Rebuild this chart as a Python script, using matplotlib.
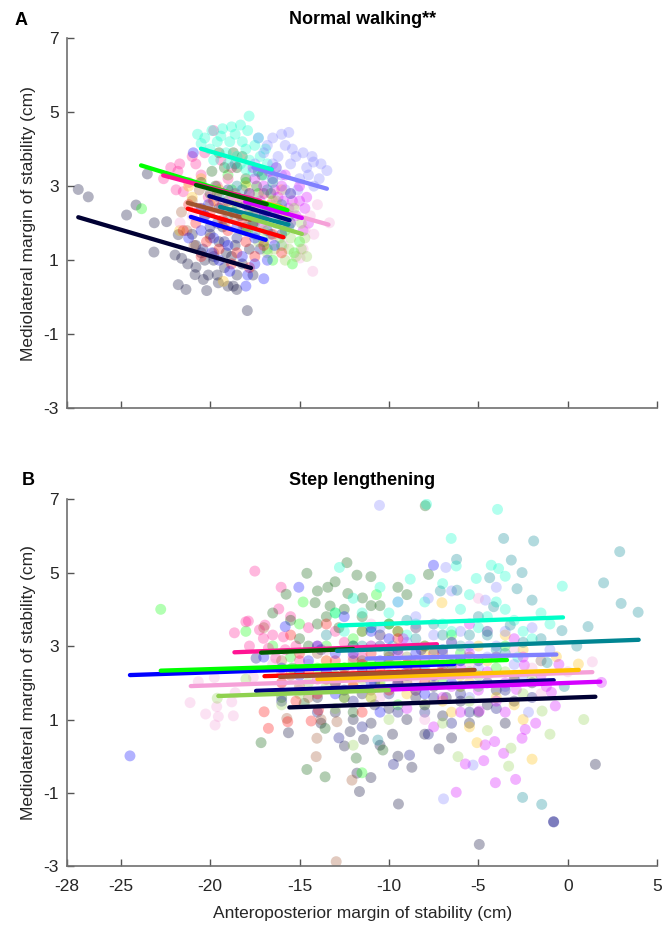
import matplotlib
matplotlib.use('Agg')
import matplotlib.pyplot as plt

plt.rcParams['font.family'] = ['Liberation Sans', 'DejaVu Sans']
plt.rcParams['axes.unicode_minus'] = False

# participant colours (same order everywhere)
colors = ['#000033', '#00ff00', '#ff1493', '#ffc000', '#005a00',
          '#00ffc8', '#8080ff', '#000080', '#d400ff', '#f5a0d8',
          '#008592', '#a0522d', '#8fd14f', '#ff0000', '#0000ff']

xticks = [-28, -25, -20, -15, -10, -5, 0, 5]
yticks = [-3, -1, 1, 3, 5, 7]

# ---- normal walking: points per participant (AP MoS, ML MoS) ----
nw_01 = [(-27.37, 2.91), (-26.81, 2.71), (-24.14, 2.49), (-24.67, 2.22), (-23.51, 3.33),
         (-23.12, 2.01), (-22.43, 2.04), (-21.78, 1.69), (-23.14, 1.22), (-21.96, 1.14),
         (-21.59, 1.05), (-21.25, 0.90), (-20.79, 0.81), (-20.84, 0.61), (-20.38, 0.48),
         (-21.78, 0.34), (-21.35, 0.21), (-20.19, 0.18), (-19.54, 0.39), (-18.7, 0.30),
         (-18.51, 0.21), (-17.92, -0.36), (-20.5, 1.2), (-19.8, 1.0), (-19.2, 0.8),
         (-18.8, 1.1), (-19.5, 1.5), (-20.0, 1.7), (-18.5, 0.6), (-19.0, 0.3),
         (-20.8, 1.4), (-18.2, 0.9), (-19.3, 1.9), (-17.8, 1.3), (-20.1, 0.6),
         (-19.6, 0.6), (-18.6, 1.4), (-20.3, 1.0), (-19.1, 1.2), (-17.6, 0.6), (-21.0, 1.7)]
nw_02 = [(-23.83, 2.39), (-17.0, 1.5), (-16.0, 1.4), (-15.3, 1.2), (-15.0, 1.5), (-16.5, 1.0),
         (-15.8, 1.8), (-17.5, 2.0), (-16.2, 2.4), (-18.0, 3.1), (-19.0, 3.3), (-17.3, 2.8),
         (-15.6, 2.2), (-18.5, 2.5), (-16.8, 1.3), (-15.4, 0.9), (-17.9, 1.8), (-18.8, 2.9)]
nw_03 = [(-22.6, 3.2), (-21.7, 3.6), (-21.8, 3.4), (-20.8, 3.6), (-19.8, 4.5), (-21.2, 3.1),
         (-20.5, 3.3), (-19.6, 3.0), (-21.5, 2.85), (-20.1, 2.7), (-19.0, 3.2), (-18.6, 2.8),
         (-20.6, 2.4), (-21.9, 2.9), (-19.3, 2.5), (-22.2, 3.5), (-21.0, 3.8), (-20.3, 3.9),
         (-19.4, 3.7), (-18.8, 3.5)]
nw_04 = [(-21.7, 1.8), (-21.2, 3.0), (-20.5, 3.2), (-19.5, 2.9), (-18.5, 2.7), (-17.5, 2.5),
         (-16.5, 2.6), (-15.8, 2.3), (-20.0, 2.5), (-18.0, 3.0), (-19.26, 0.43), (-16.0, 2.9),
         (-19.0, 2.4), (-17.0, 2.8), (-21.0, 2.7)]
nw_05 = [(-20.5, 3.1), (-19.9, 3.4), (-19.2, 3.5), (-18.5, 3.5), (-18.0, 3.2), (-17.4, 3.0),
         (-16.6, 2.8), (-20.0, 2.8), (-19.0, 2.6), (-17.8, 2.4), (-16.8, 2.4), (-18.7, 3.9),
         (-19.5, 3.9), (-19.7, 3.0), (-18.2, 3.8), (-17.1, 3.3), (-17.8, 2.8)]
nw_06 = [(-20.3, 4.3), (-19.9, 4.5), (-19.3, 4.55), (-18.8, 4.6), (-18.3, 4.65), (-17.9, 4.5),
         (-17.82, 4.89), (-19.6, 4.2), (-18.9, 4.2), (-18.2, 4.2), (-17.5, 4.1), (-19.1, 3.9),
         (-18.5, 3.8), (-17.8, 3.7), (-17.2, 3.8), (-16.8, 3.6), (-19.8, 3.7), (-18.0, 3.45),
         (-20.5, 4.15), (-17.0, 3.3), (-16.5, 3.2), (-20.0, 4.0), (-19.4, 4.35), (-18.6, 4.4),
         (-18.0, 4.0), (-17.3, 4.3), (-16.9, 4.0), (-19.0, 3.6), (-18.3, 3.6), (-17.6, 3.4),
         (-20.7, 4.4), (-16.3, 3.5)]
nw_07 = [(-16.5, 4.3), (-16.0, 4.4), (-15.4, 4.0), (-14.8, 3.9), (-14.3, 3.8), (-13.8, 3.6),
         (-13.47, 3.42), (-15.5, 3.6), (-16.2, 3.8), (-17.0, 3.9), (-16.0, 3.3), (-15.0, 3.2),
         (-14.6, 3.5), (-17.5, 3.6), (-14.2, 3.0), (-15.8, 2.9), (-14.22, 3.65), (-16.8, 4.1),
         (-15.8, 4.1), (-15.2, 3.8), (-14.5, 3.3), (-15.1, 2.9), (-16.5, 3.6), (-13.9, 3.2),
         (-17.3, 4.3), (-15.6, 4.45)]
nw_08 = [(-20.5, 2.4), (-19.5, 2.4), (-19.0, 2.9), (-18.3, 2.2), (-17.6, 2.0), (-16.8, 1.8),
         (-16.0, 1.7), (-20.0, 1.9), (-19.2, 1.5), (-18.5, 1.6), (-17.2, 1.3), (-20.4, 1.3),
         (-19.6, 2.0), (-18.0, 2.5), (-16.4, 2.3), (-19.8, 1.1), (-18.7, 2.3), (-17.0, 2.2),
         (-15.5, 2.0)]
nw_09 = [(-17.5, 3.2), (-17.0, 3.0), (-16.5, 3.2), (-16.0, 3.0), (-15.5, 2.8), (-15.0, 2.6),
         (-17.2, 2.6), (-16.6, 2.5), (-16.2, 2.7), (-15.6, 2.4), (-15.2, 2.2), (-14.7, 2.4),
         (-17.8, 2.8), (-16.8, 2.2), (-14.5, 2.0), (-15.8, 3.3), (-16.4, 2.9), (-17.4, 2.3),
         (-14.8, 1.8), (-16.0, 2.0), (-17.0, 2.8), (-16.2, 2.3), (-15.4, 2.6), (-15.9, 2.6),
         (-16.7, 3.4), (-17.6, 3.5), (-15.0, 3.0), (-14.6, 2.7), (-17.1, 2.0), (-16.3, 3.5)]
nw_10 = [(-13.33, 2.01), (-14.26, 0.70), (-14.69, 1.83), (-14.97, 1.06), (-14.4, 2.2),
         (-15.3, 2.5), (-16.0, 2.3), (-17.0, 2.0), (-18.2, 2.4), (-19.0, 2.6), (-20.0, 2.9),
         (-21.68, 2.01), (-21.0, 2.2), (-16.5, 1.6), (-14.8, 1.3), (-15.6, 2.0), (-14.2, 1.7),
         (-15.9, 1.4), (-17.5, 2.7), (-14.0, 2.5)]
nw_11 = [(-18.5, 3.0), (-17.8, 2.6), (-17.0, 2.3), (-16.3, 2.0), (-15.6, 1.9), (-19.0, 2.2),
         (-18.0, 1.9), (-16.8, 2.9), (-19.5, 2.7), (-16.0, 2.5), (-17.3, 3.4), (-18.6, 3.6),
         (-15.5, 2.8), (-17.5, 1.7), (-18.2, 2.9), (-17.6, 2.2), (-16.6, 1.7), (-16.5, 3.1)]
nw_12 = [(-21.0, 2.6), (-20.3, 2.2), (-19.6, 2.8), (-21.3, 1.8), (-20.0, 1.6), (-19.2, 2.0),
         (-18.6, 2.2), (-18.0, 1.8), (-21.6, 2.3), (-19.8, 1.2), (-17.6, 2.0), (-20.6, 2.9),
         (-19.4, 2.4), (-18.3, 2.6), (-20.9, 1.4)]
nw_13 = [(-15.2, 1.1), (-14.9, 1.3), (-15.8, 1.0), (-16.4, 1.3), (-14.7, 1.6), (-15.5, 1.6),
         (-17.0, 1.8), (-16.0, 2.0), (-17.6, 2.3), (-14.9, 2.0), (-16.8, 1.2), (-18.2, 1.8),
         (-15.3, 2.4), (-16.3, 2.6), (-15.6, 1.3), (-14.6, 1.1), (-16.1, 1.6), (-17.3, 1.5)]
nw_14 = [(-20.8, 2.0), (-20.2, 1.5), (-19.5, 1.3), (-19.0, 1.8), (-18.5, 1.2), (-18.0, 1.5),
         (-17.5, 1.1), (-21.2, 2.5), (-20.0, 2.3), (-17.0, 1.4), (-19.3, 2.1), (-21.5, 1.8),
         (-16.5, 1.7), (-18.8, 0.9), (-20.5, 1.1), (-19.8, 2.6), (-18.2, 2.0), (-17.8, 0.8),
         (-16.0, 1.2)]
nw_15 = [(-20.94, 3.9), (-20.5, 1.8), (-19.8, 1.6), (-19.0, 1.4), (-18.5, 1.9), (-18.2, 1.1),
         (-17.5, 0.9), (-17.9, 0.6), (-19.5, 1.0), (-20.3, 2.2), (-16.8, 1.0), (-21.2, 1.6),
         (-18.0, 0.3), (-17.5, 1.6), (-19.9, 1.2), (-18.9, 0.7), (-17.0, 0.5), (-20.1, 2.5),
         (-16.4, 1.4)]

# ---- step lengthening: points per participant ----
sl_01 = [(-15.62, 0.64), (-12.49, 0.28), (-11.65, -0.96), (-11.01, -0.58), (-11.42, 0.46),
         (-11.79, -0.46), (-12.17, 0.67), (-9.47, -1.30), (-4.95, -2.40), (1.54, -0.22),
         (-13.0, 1.2), (-12.0, 1.0), (-11.0, 0.9), (-10.0, 1.3), (-9.0, 1.0), (-8.0, 0.6),
         (-7.0, 1.1), (-6.0, 1.5), (-5.0, 1.2), (-4.0, 1.8), (-3.0, 1.5), (-2.0, 2.0),
         (-10.5, 0.3), (-9.5, 0.0), (-8.5, 1.6), (-7.5, 1.9), (-14.0, 1.6), (-6.5, 0.5),
         (-11.5, 1.7), (-8.72, -0.30), (-12.5, 1.8), (-10.8, 1.4), (-9.8, 0.6), (-8.0, 1.4),
         (-6.8, 1.6), (-5.5, 0.9), (-4.5, 1.4), (-3.5, 0.9), (-13.8, 0.9), (-7.2, 0.2)]
sl_02 = [(-22.76, 4.00), (-11.51, -0.45), (-18.0, 3.4), (-16.5, 3.0), (-15.0, 3.6), (-14.0, 2.4),
         (-13.0, 3.9), (-12.0, 3.2), (-11.0, 2.5), (-10.0, 3.6), (-9.0, 2.2), (-8.0, 3.0),
         (-7.0, 2.0), (-6.0, 2.8), (-5.0, 1.9), (-4.0, 2.4), (-12.5, 1.6), (-9.5, 1.4),
         (-14.8, 4.2), (-10.7, 4.4), (-13.5, 3.0), (-11.5, 3.4), (-10.5, 2.0), (-8.5, 3.5),
         (-7.5, 2.6), (-6.5, 3.3), (-5.5, 2.3), (-15.5, 2.7), (-3.5, 3.0)]
sl_03 = [(-17.5, 5.04), (-16.03, 4.60), (-16.16, 4.01), (-17.86, 3.68), (-18.0, 3.66),
         (-18.64, 3.36), (-17.24, 3.44), (-16.93, 3.57), (-17.02, 3.21), (-16.74, 2.94),
         (-16.33, 2.67), (-15.9, 3.25), (-15.2, 3.0), (-14.5, 3.5), (-13.5, 2.6), (-12.5, 3.1),
         (-11.5, 2.7), (-10.5, 3.3), (-9.5, 2.9), (-8.5, 2.4), (-14.0, 2.1), (-12.0, 2.2),
         (-15.5, 3.8), (-16.0, 2.3), (-17.8, 3.0), (-15.0, 2.6), (-13.0, 3.4), (-11.0, 3.0),
         (-16.5, 3.3), (-14.0, 3.0), (-12.0, 2.7), (-15.8, 2.9)]
sl_04 = [(-2.0, -0.08), (0.59, 2.51), (-5.08, 0.37), (-0.64, 2.71), (-7.04, 4.18), (-12.0, 2.0),
         (-11.0, 1.6), (-10.0, 2.5), (-9.0, 1.7), (-8.0, 2.8), (-7.0, 1.5), (-6.0, 2.2),
         (-5.0, 3.0), (-4.0, 1.6), (-3.0, 2.2), (-2.5, 1.0), (-1.5, 2.6), (-9.5, 3.4),
         (-5.5, 0.8), (-3.5, 3.3), (-13.5, 2.6), (-9.0, 2.5), (-7.0, 2.8), (-5.5, 2.0),
         (-4.5, 2.6), (-2.5, 2.9), (-10.5, 1.9), (-6.5, 1.2), (-3.0, 1.4)]
sl_05 = [(-14.59, 4.98), (-12.35, 5.27), (-11.79, 4.93), (-11.01, 4.89), (-13.01, 4.75),
         (-13.42, 4.60), (-15.75, 4.41), (-13.29, 4.09), (-14.13, 4.18), (-12.30, 4.43),
         (-11.48, 4.31), (-17.15, 0.37), (-14.59, -0.36), (-13.57, -0.56), (-13.57, 0.76),
         (-11.83, -0.05), (-10.34, 0.17), (-14.74, 1.44), (-7.79, 4.95), (-7.97, 6.82),
         (-16.5, 3.9), (-15.0, 3.2), (-14.0, 3.6), (-12.8, 3.5), (-11.5, 3.8), (-10.5, 4.1),
         (-9.5, 3.4), (-13.0, 2.2), (-15.4, 2.4), (-10.0, 2.8), (-12.0, 1.2), (-16.0, 1.6),
         (-9.0, 4.4), (-14.5, 3.0), (-13.5, 3.8), (-12.0, 3.0), (-11.0, 4.1), (-10.0, 3.6),
         (-15.5, 3.7), (-14.0, 4.5), (-12.5, 4.0), (-9.5, 4.6), (-11.5, 2.6)]
sl_06 = [(-12.77, 5.14), (-3.93, 6.72), (-6.52, 5.93), (-6.24, 5.18), (-4.28, 5.20), (-3.87, 5.11),
         (-3.5, 4.9), (-0.31, 4.63), (-5.12, 4.84), (-8.81, 4.82), (-7.9, 6.86), (-13.0, 3.9),
         (-12.0, 4.3), (-11.0, 3.5), (-10.0, 3.9), (-9.0, 3.3), (-8.0, 4.2), (-7.0, 3.6),
         (-6.0, 4.0), (-5.0, 3.5), (-4.0, 4.2), (-3.0, 3.7), (-2.0, 3.2), (-1.5, 3.9),
         (-10.5, 4.6), (-7.5, 2.9), (-2.8, 2.7), (-9.8, 3.0), (-11.5, 3.9), (-9.5, 4.2),
         (-8.5, 3.6), (-6.5, 3.4), (-5.5, 4.4), (-4.5, 3.8), (-3.5, 4.0), (-2.5, 3.4),
         (-1.0, 3.6), (-7.0, 4.7), (-12.5, 3.4), (-6.0, 3.0)]
sl_07 = [(-10.53, 6.83), (-6.82, 5.14), (-4.61, 4.25), (-6.95, -1.16), (-5.3, -0.24), (-11.0, 3.0),
         (-10.0, 2.4), (-9.0, 3.1), (-8.0, 2.3), (-7.0, 2.8), (-6.0, 3.4), (-5.0, 2.4),
         (-4.0, 3.0), (-3.0, 2.5), (-2.0, 3.5), (-1.0, 2.9), (-8.5, 3.8), (-5.5, 1.6),
         (-3.5, 1.9), (-9.5, 4.2), (-2.2, 1.2), (-6.5, 4.5), (-9.8, 2.9), (-8.8, 2.6),
         (-7.5, 3.3), (-6.5, 2.6), (-5.5, 3.0), (-4.5, 2.7), (-3.5, 3.4), (-2.5, 2.2),
         (-1.5, 2.6), (-7.8, 4.3), (-10.5, 3.5), (-4.0, 4.6)]
sl_08 = [(-17.43, 2.67), (-9.75, -0.22), (-8.85, 0.03), (-0.79, -1.79), (-0.8, -1.78),
         (-16.0, 1.5), (-15.0, 2.3), (-14.0, 1.2), (-13.0, 2.0), (-12.0, 1.5), (-11.0, 2.4),
         (-10.0, 1.7), (-9.0, 2.2), (-8.0, 1.2), (-7.0, 2.3), (-6.0, 1.7), (-5.0, 2.6),
         (-4.0, 1.3), (-3.0, 2.1), (-2.0, 1.6), (-11.5, 0.8), (-13.8, 2.9), (-6.5, 0.9),
         (-4.5, 3.4), (-10.5, 3.0), (-12.8, 0.5), (-8.2, 2.9), (-9.5, 1.2), (-8.5, 1.8),
         (-7.5, 1.6), (-6.5, 2.5), (-5.5, 1.2), (-4.5, 2.0), (-3.5, 1.8), (-10.8, 2.0),
         (-12.5, 2.4), (-7.8, 0.6)]
sl_09 = [(-6.24, -0.98), (-4.05, -0.72), (-2.92, -0.63), (-5.73, -0.21), (-4.7, -0.12),
         (-3.59, 0.08), (-4.09, 0.40), (-2.56, 0.49), (-2.38, 0.73), (-4.62, 0.31), (-4.95, 1.23),
         (-0.7, 1.37), (-0.92, 1.74), (-2.88, 1.82), (1.88, 2.01), (-2.43, 2.48), (-10.0, 2.2),
         (-9.0, 1.3), (-8.0, 2.6), (-7.0, 1.6), (-6.0, 2.4), (-5.0, 1.8), (-4.0, 2.7),
         (-3.5, 1.2), (-1.5, 2.2), (-0.5, 2.5), (-7.5, 0.8), (-6.5, 3.1), (-3.0, 3.2),
         (-1.8, 0.9), (-8.5, 3.5), (-5.5, 3.6), (-9.5, 2.8), (-8.5, 1.8), (-7.5, 2.2),
         (-6.5, 1.9), (-5.5, 2.8), (-4.5, 2.3), (-3.5, 2.0), (-2.5, 2.7), (-1.2, 1.9),
         (-6.0, 1.2), (-4.0, 1.5), (-9.2, 3.2)]
sl_10 = [(-21.12, 1.46), (-20.25, 1.15), (-19.72, 0.85), (-19.54, 1.08), (-19.63, 1.35),
         (-18.79, 1.48), (-18.7, 1.10), (-18.6, 1.73), (-20.66, 2.03), (-19.76, 2.14),
         (-17.58, 2.15), (1.37, 2.57), (-16.5, 2.5), (-15.0, 1.8), (-13.5, 2.9), (-12.0, 2.3),
         (-10.5, 1.6), (-9.0, 2.7), (-7.5, 2.0), (-6.0, 3.0), (-4.5, 2.2), (-3.0, 2.9),
         (-1.5, 1.7), (0.0, 2.3), (-5.0, 4.3), (-8.0, 1.0), (-11.0, 3.6), (-16.0, 2.0),
         (-14.5, 2.5), (-13.0, 1.9), (-11.5, 2.8), (-10.0, 2.2), (-8.5, 2.0), (-7.0, 2.5),
         (-5.5, 2.5), (-4.0, 2.7), (-2.0, 2.4)]
sl_11 = [(-10.62, 0.44), (-2.53, -1.12), (-1.46, -1.31), (-1.16, 2.55), (-3.59, 5.93),
         (-1.91, 5.86), (2.9, 5.57), (-6.22, 5.36), (-3.16, 5.34), (-2.56, 5.00), (2.0, 4.72),
         (-4.37, 4.86), (2.98, 4.16), (3.93, 3.92), (-2.0, 4.25), (-2.84, 4.56), (1.13, 3.53),
         (-0.33, 3.42), (-6.20, 4.52), (-7.13, 4.50), (-4.15, 4.07), (-3.22, 3.57), (-12.0, 3.0),
         (-11.0, 3.5), (-10.0, 2.6), (-9.0, 3.7), (-8.0, 2.4), (-7.0, 3.3), (-6.0, 2.6),
         (-5.0, 3.8), (-4.0, 2.9), (-13.5, 3.3), (0.5, 3.0), (-0.2, 1.9), (-11.5, 3.0),
         (-10.5, 3.3), (-9.5, 2.9), (-8.5, 3.2), (-7.5, 3.6), (-6.5, 3.1), (-5.5, 3.3),
         (-4.5, 3.3), (-3.5, 2.8), (-2.5, 3.1), (-1.5, 3.2)]
sl_12 = [(-14.03, 0.49), (-14.07, -0.01), (-12.07, -0.65), (-12.95, -2.87), (-15.71, 1.03),
         (-12.91, 0.94), (-16.0, 2.6), (-15.0, 1.9), (-14.0, 2.8), (-13.0, 2.0), (-12.0, 2.6),
         (-11.0, 1.8), (-10.0, 2.7), (-9.0, 2.0), (-8.0, 3.0), (-7.0, 2.4), (-6.0, 1.9),
         (-17.0, 3.5), (-11.5, 3.4), (-5.5, 2.7), (-15.5, 2.2), (-14.5, 1.6), (-13.5, 2.3),
         (-12.5, 1.6), (-11.5, 2.3), (-10.5, 2.2), (-9.5, 2.5), (-8.5, 2.4), (-13.8, 1.0)]
sl_13 = [(-19.6, 1.58), (0.89, 1.0), (-3.31, -0.27), (-3.18, 0.22), (-1.44, 1.23), (-6.14, -0.01),
         (-18.0, 2.1), (-16.0, 1.4), (-14.5, 2.0), (-13.0, 1.3), (-11.5, 2.1), (-10.0, 1.0),
         (-8.5, 1.8), (-7.0, 0.9), (-5.5, 1.5), (-4.5, 0.7), (-2.5, 1.7), (-1.0, 0.6),
         (-9.0, 2.7), (-12.0, 0.3), (-6.5, 2.4), (-15.0, 1.7), (-13.5, 1.9), (-12.5, 2.4),
         (-11.0, 1.6), (-9.5, 2.1), (-8.0, 1.4), (-7.5, 2.0), (-6.0, 1.9), (-5.0, 2.2),
         (-3.5, 2.3), (-2.0, 2.1)]
sl_14 = [(-16.98, 1.21), (-16.74, 0.76), (-15.66, 0.94), (-14.35, 0.96), (-13.94, 1.26),
         (-16.0, 2.0), (-15.0, 2.8), (-14.0, 1.7), (-13.0, 2.6), (-12.0, 1.9), (-11.0, 2.8),
         (-10.0, 1.8), (-9.0, 2.5), (-8.0, 2.0), (-7.5, 2.8), (-15.5, 3.3), (-13.5, 3.6),
         (-11.5, 1.2), (-9.5, 3.2), (-14.5, 2.3), (-13.5, 2.1), (-12.5, 2.2), (-11.5, 2.5),
         (-10.5, 2.4), (-9.5, 2.0), (-8.5, 2.6), (-15.2, 1.5)]
sl_15 = [(-24.48, 0.01), (-15.04, 4.60), (-15.8, 3.53), (-7.51, 5.20), (-17.0, 2.7), (-15.0, 2.2),
         (-14.0, 3.0), (-13.0, 1.7), (-12.0, 2.8), (-11.0, 2.0), (-10.0, 3.2), (-9.0, 2.4),
         (-8.0, 1.7), (-7.0, 2.9), (-6.5, 2.0), (-12.5, 3.8), (-10.5, 1.2), (-13.5, 2.3),
         (-16.0, 2.4), (-14.5, 2.6), (-13.0, 2.8), (-11.5, 2.4), (-10.5, 2.6), (-9.5, 2.0),
         (-8.5, 2.8), (-7.5, 2.2), (-6.0, 2.6), (-11.0, 3.4)]

# ---- fitted lines per participant: start x, start y, end x, end y ----
nw_fit_x0 = [-27.37, -23.86, -22.62, -21.5, -20.79, -20.51, -17.58, -20.04, -18.04, -18.88,
             -19.44, -21.25, -18.14, -21.25, -21.08]
nw_fit_y0 = [2.16, 3.56, 3.29, 3.16, 3.03, 4.01, 3.50, 2.73, 2.58, 2.71, 2.44, 2.55, 2.19, 2.39, 2.17]
nw_fit_x1 = [-17.71, -15.68, -17.2, -15.9, -16.83, -16.55, -13.47, -15.56, -14.87, -13.38,
             -15.62, -17.76, -14.87, -15.9, -16.89]
nw_fit_y1 = [0.79, 2.35, 2.60, 2.41, 2.51, 3.45, 2.93, 2.08, 2.14, 1.96, 1.96, 2.09, 1.71, 1.62, 1.55]

sl_fit_x0 = [-15.57, -22.76, -18.64, -14.0, -17.15, -12.77, -11.23, -17.43, -10.77, -21.08,
             -12.91, -16.09, -19.54, -16.96, -24.48]
sl_fit_y0 = [1.33, 2.33, 2.83, 2.10, 2.82, 3.56, 2.66, 1.78, 1.80, 1.91, 2.87, 2.16, 1.64, 2.18, 2.21]
sl_fit_x1 = [1.54, -3.4, -7.32, 0.61, -12.0, -0.27, -0.64, -0.79, 1.82, 1.37,
             3.96, -5.21, -10.0, -7.0, -6.35]
sl_fit_y1 = [1.62, 2.62, 3.05, 2.35, 2.92, 3.78, 2.77, 2.07, 2.03, 2.29, 3.17, 2.35, 1.80, 2.33, 2.51]

nw_points = [nw_01, nw_02, nw_03, nw_04, nw_05, nw_06, nw_07, nw_08,
             nw_09, nw_10, nw_11, nw_12, nw_13, nw_14, nw_15]
sl_points = [sl_01, sl_02, sl_03, sl_04, sl_05, sl_06, sl_07, sl_08,
             sl_09, sl_10, sl_11, sl_12, sl_13, sl_14, sl_15]

# drawing order of the fit lines (later = on top)
line_order = [0, 7, 9, 8, 3, 13, 11, 14, 1, 6, 2, 4, 10, 12, 5]

fig = plt.figure(figsize=(6.70, 9.26), dpi=100)
ax_a = fig.add_axes([0.100, 0.559, 0.881, 0.400])
ax_b = fig.add_axes([0.100, 0.0643, 0.881, 0.3967])


def draw_panel(ax, points, x0, y0, x1, y1):
    for pts, c in zip(points, colors):
        xs = [p[0] for p in pts]
        ys = [p[1] for p in pts]
        ax.scatter(xs, ys, s=62, color=c, alpha=0.3, edgecolors='none', zorder=2)
    for i in line_order:
        ax.plot([x0[i], x1[i]], [y0[i], y1[i]], color=colors[i], lw=3.1,
                solid_capstyle='round', zorder=3)
    ax.set_xlim(-28, 5)
    ax.set_ylim(-3, 7)
    ax.set_xticks(xticks)
    ax.set_yticks(yticks)
    for s in ['top', 'right']:
        ax.spines[s].set_visible(False)
    for s in ['left', 'bottom']:
        ax.spines[s].set_color('#707070')
        ax.spines[s].set_linewidth(1.2)
    ax.tick_params(direction='in', length=5, width=1, color='#555555',
                   labelsize=12.5, labelcolor='#262626')
    ax.tick_params(axis='x', pad=9)
    ax.tick_params(axis='y', pad=6)
    ax.set_ylabel('Mediolateral margin of stability (cm)', fontsize=12.5, color='#262626', labelpad=5)


draw_panel(ax_a, nw_points, nw_fit_x0, nw_fit_y0, nw_fit_x1, nw_fit_y1)
ax_a.tick_params(axis='x', labelbottom=False)
ax_a.set_title('Normal walking**', fontsize=13, fontweight='bold', pad=10)

draw_panel(ax_b, sl_points, sl_fit_x0, sl_fit_y0, sl_fit_x1, sl_fit_y1)
ax_b.set_title('Step lengthening', fontsize=13, fontweight='bold', pad=10)
ax_b.set_xlabel('Anteroposterior margin of stability (cm)', fontsize=12.5, color='#262626', labelpad=9)

fig.text(0.022, 0.978, 'A', fontsize=13, fontweight='bold', va='center')
fig.text(0.032, 0.481, 'B', fontsize=13, fontweight='bold', va='center')

plt.savefig('out.png', dpi=100)
